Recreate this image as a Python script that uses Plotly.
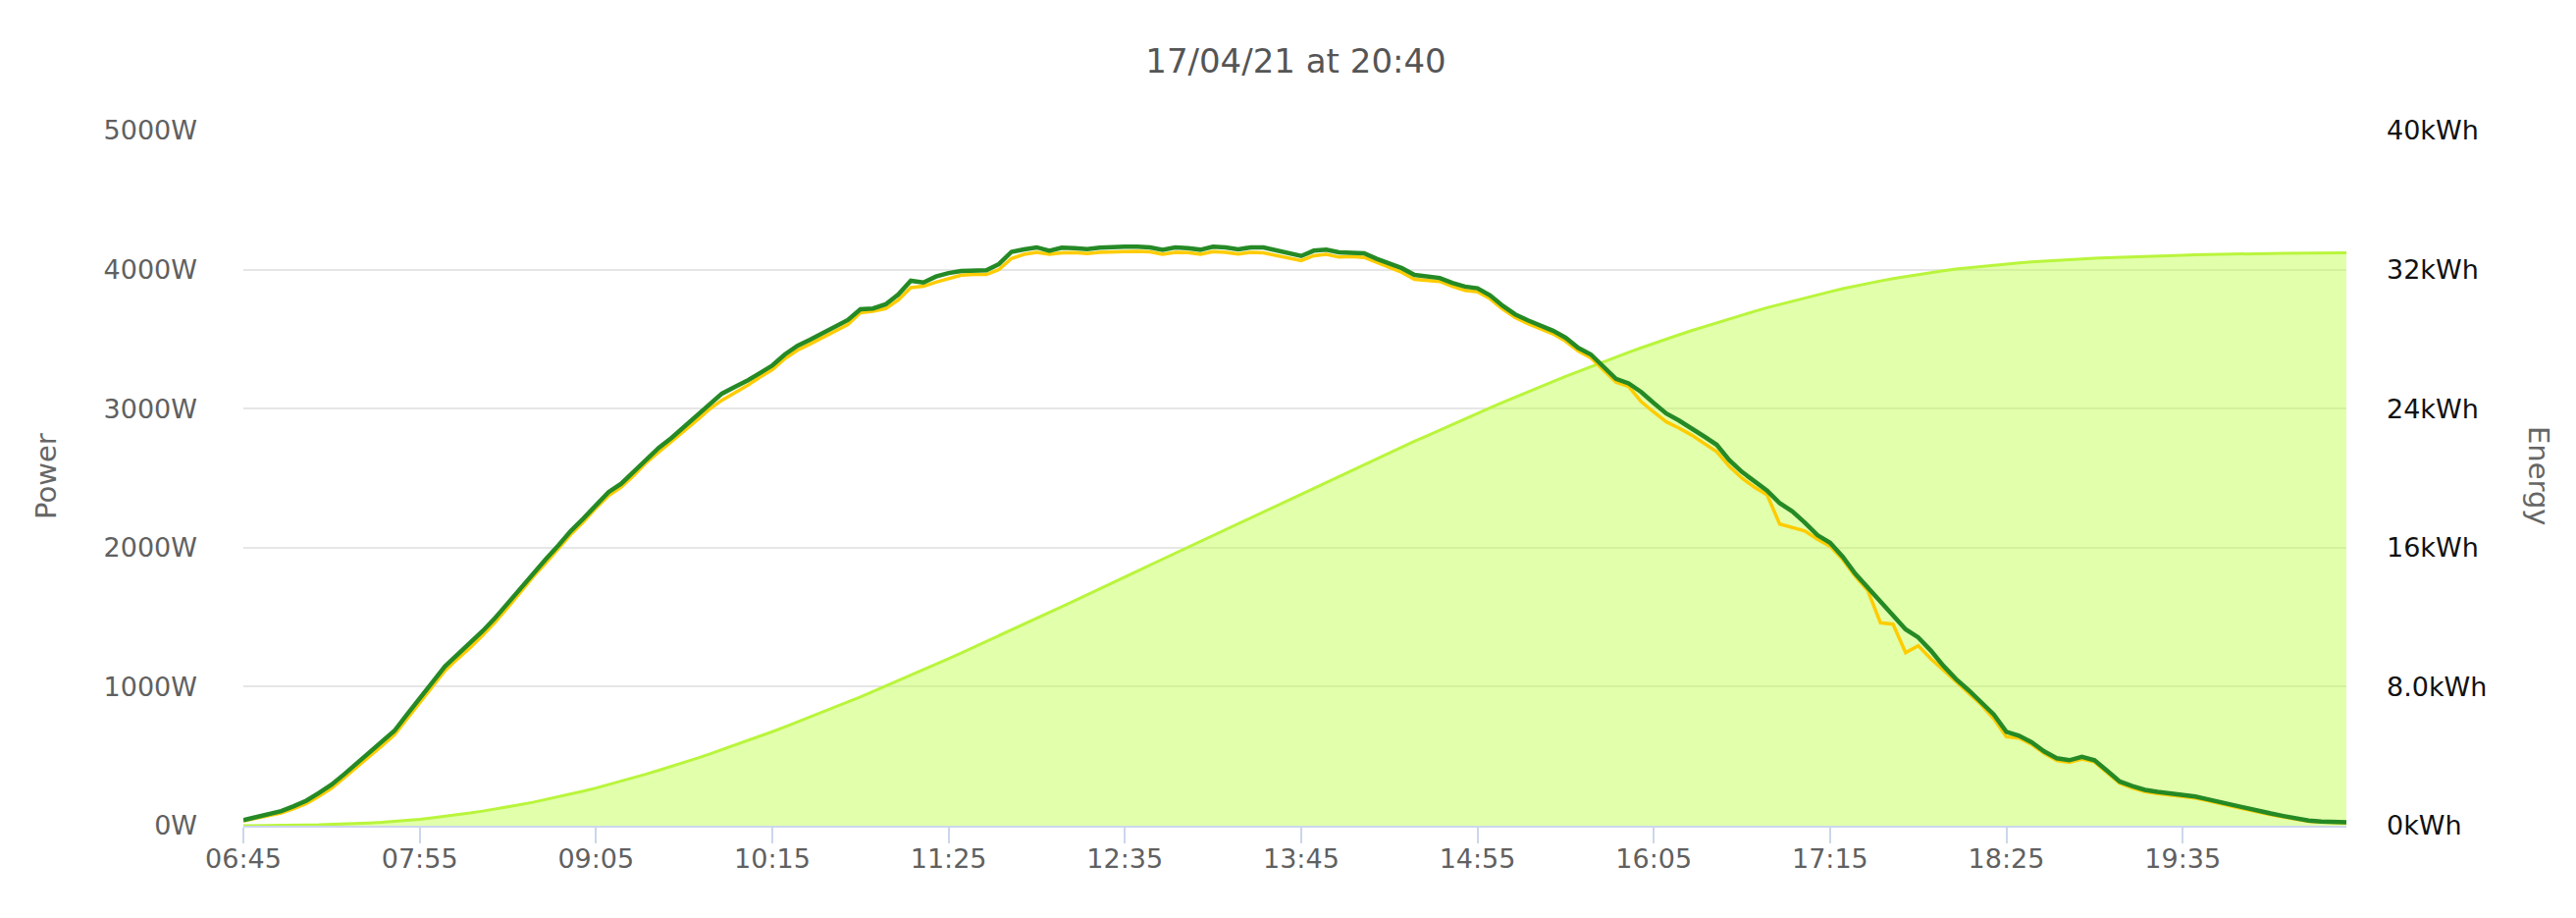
import plotly.graph_objects as go

# ---- data ----
start_min = 6 * 60 + 45
times = [f"{(start_min + 5 * i) // 60:02d}:{(start_min + 5 * i) % 60:02d}" for i in range(168)]

power_green = [
    40, 60, 82, 105, 140, 180, 235, 295, 370, 448, 525, 603,
    683, 800, 920, 1030, 1145, 1230, 1310, 1400, 1495, 1600, 1710, 1820,
    1915, 2015, 2120, 2210, 2310, 2400, 2460, 2545, 2640, 2720, 2790, 2870,
    2945, 3030, 3108, 3155, 3200, 3255, 3310, 3390, 3452, 3495, 3540, 3590,
    3637, 3715, 3720, 3750, 3820, 3920, 3907, 3950, 3975, 3990, 3990, 3995,
    4040, 4128, 4145, 4160, 4135, 4158, 4155, 4148, 4158, 4164, 4165, 4165,
    4160, 4143, 4160, 4155, 4143, 4165, 4160, 4145, 4160, 4160, 4140, 4120,
    4098, 4136, 4143, 4125, 4122, 4118, 4078, 4045, 4010, 3962, 3950, 3940,
    3905, 3878, 3866, 3815, 3740, 3678, 3635, 3600, 3560, 3510, 3437, 3390,
    3300, 3214, 3182, 3120, 3040, 2965, 2915, 2862, 2800, 2740, 2630, 2545,
    2475, 2410, 2320, 2261, 2180, 2090, 2035, 1935, 1813, 1710, 1610, 1510,
    1413, 1355, 1260, 1150, 1055, 975, 890, 800, 675, 648, 601, 535,
    485, 471, 495, 471, 395, 318, 285, 258, 243, 232, 220, 210,
    190, 168, 148, 128, 108, 88, 70, 53, 37, 30, 26, 24,
]

power_yellow = [
    35, 52, 72, 92, 122, 160, 212, 270, 345, 420, 498, 575,
    655, 770, 890, 1000, 1115, 1200, 1280, 1370, 1465, 1570, 1680, 1790,
    1888, 1990, 2095, 2185, 2285, 2375, 2435, 2520, 2612, 2690, 2762, 2840,
    2915, 2995, 3060, 3110, 3165, 3225, 3280, 3360, 3420, 3465, 3510, 3560,
    3605, 3690, 3700, 3720, 3780, 3870, 3880, 3910, 3935, 3960, 3965, 3965,
    4000, 4080, 4110, 4125, 4110, 4120, 4122, 4115, 4125, 4130, 4130, 4132,
    4128, 4110, 4125, 4122, 4110, 4130, 4125, 4112, 4125, 4120, 4100, 4080,
    4065, 4100, 4110, 4090, 4095, 4088, 4050, 4015, 3980, 3930, 3925, 3915,
    3880, 3850, 3840, 3790, 3715, 3655, 3612, 3578, 3538, 3485, 3415, 3365,
    3275, 3190, 3160, 3050, 2975, 2905, 2860, 2810, 2750, 2690, 2585, 2500,
    2435, 2380, 2170, 2145, 2120, 2060, 2010, 1915, 1795, 1690, 1460, 1450,
    1245, 1295, 1200, 1120, 1035, 955, 870, 770, 640, 630, 585, 520,
    470, 455, 480, 458, 382, 305, 272, 245, 232, 222, 210, 200,
    180, 158, 138, 118, 98, 80, 62, 46, 32, 26, 22, 20,
]

energy_kwh = [
    0.00, 0.00, 0.01, 0.01, 0.02, 0.04, 0.05, 0.07, 0.09, 0.12, 0.16, 0.20,
    0.25, 0.31, 0.37, 0.45, 0.53, 0.63, 0.73, 0.84, 0.95, 1.07, 1.21, 1.35,
    1.50, 1.65, 1.82, 1.99, 2.17, 2.36, 2.56, 2.76, 2.97, 3.19, 3.41, 3.64,
    3.88, 4.12, 4.37, 4.62, 4.88, 5.14, 5.41, 5.68, 5.96, 6.24, 6.53, 6.82,
    7.12, 7.41, 7.72, 8.02, 8.33, 8.65, 8.97, 9.29, 9.61, 9.94, 10.27, 10.59,
    10.92, 11.25, 11.59, 11.93, 12.27, 12.61, 12.95, 13.30, 13.64, 13.98, 14.32, 14.66,
    15.00, 15.34, 15.68, 16.03, 16.37, 16.71, 17.05, 17.39, 17.73, 18.07, 18.41, 18.75,
    19.09, 19.43, 19.77, 20.11, 20.45, 20.78, 21.12, 21.46, 21.79, 22.12, 22.44, 22.77,
    23.09, 23.41, 23.73, 24.05, 24.36, 24.67, 24.97, 25.27, 25.56, 25.86, 26.14, 26.43,
    26.70, 26.98, 27.24, 27.50, 27.76, 28.01, 28.25, 28.49, 28.72, 28.95, 29.18, 29.39,
    29.60, 29.81, 30.00, 30.19, 30.38, 30.56, 30.73, 30.90, 31.06, 31.21, 31.35, 31.48,
    31.60, 31.72, 31.83, 31.93, 32.03, 32.11, 32.19, 32.27, 32.33, 32.39, 32.44, 32.49,
    32.53, 32.57, 32.61, 32.65, 32.69, 32.72, 32.75, 32.77, 32.79, 32.81, 32.83, 32.85,
    32.87, 32.88, 32.90, 32.91, 32.92, 32.93, 32.94, 32.94, 32.95, 32.95, 32.95, 32.96,
]

power_ticks = [0, 1000, 2000, 3000, 4000, 5000]
power_tick_text = ["0W", "1000W", "2000W", "3000W", "4000W", "5000W"]
energy_ticks = [0, 8, 16, 24, 32, 40]
energy_tick_text = ["0kWh", "8.0kWh", "16kWh", "24kWh", "32kWh", "40kWh"]
x_tick_labels = times[::14]

title_text = "17/04/21 at 20:40"

FONT = "DejaVu Sans"

fig = go.Figure()

# energy area (base axis, right side) - drawn beneath the power lines
fig.add_trace(go.Scatter(
    x=times, y=energy_kwh, mode="lines", name="Energy",
    line=dict(color="#b9f53c", width=3),
    fill="tozeroy", fillcolor="rgba(190,255,70,0.45)",
    yaxis="y", hoverinfo="skip",
))
fig.add_trace(go.Scatter(
    x=times, y=power_yellow, mode="lines", name="Power 1",
    line=dict(color="#ffcc00", width=3.5),
    yaxis="y2", hoverinfo="skip",
))
fig.add_trace(go.Scatter(
    x=times, y=power_green, mode="lines", name="Power 2",
    line=dict(color="#258a25", width=4.5),
    yaxis="y2", hoverinfo="skip",
))

fig.update_layout(
    template="none",
    width=2625, height=935,
    margin=dict(l=240, r=242, t=125, b=102, autoexpand=False),
    paper_bgcolor="white", plot_bgcolor="white",
    showlegend=False,
    font=dict(family=FONT),
    title=dict(text=title_text, x=0.5, xanchor="center", y=1 - 54 / 935, yanchor="middle",
               font=dict(family=FONT, size=34, color="#555555")),
    xaxis=dict(
        type="category", range=[0, len(times) - 1], automargin=False,
        showgrid=False, zeroline=False,
        showline=True, linecolor="#ccd6eb", linewidth=2,
        ticks="outside", ticklen=16, tickwidth=2, tickcolor="#ccd6eb",
        ticklabelstandoff=-7,
        tickmode="array", tickvals=x_tick_labels, ticktext=x_tick_labels,
        tickfont=dict(family=FONT, size=27, color="#606060"),
    ),
    yaxis=dict(
        side="right", range=[0, 40], automargin=False,
        tickmode="array", tickvals=energy_ticks, ticktext=energy_tick_text,
        showgrid=True, gridcolor="#e6e6e6", gridwidth=2,
        zeroline=False, showline=False, ticks="",
        ticklabelstandoff=40,
        tickfont=dict(family=FONT, size=27, color="#111111"),
    ),
    yaxis2=dict(
        overlaying="y", side="left", range=[0, 5000], automargin=False,
        tickmode="array", tickvals=power_ticks, ticktext=power_tick_text,
        showgrid=False, zeroline=False, showline=False, ticks="",
        ticklabelstandoff=46,
        tickfont=dict(family=FONT, size=27, color="#606060"),
    ),
    annotations=[
        dict(text="Power", xref="paper", yref="paper", x=(39 - 240) / 2143, y=(833 - 477) / 708,
             xanchor="center", yanchor="middle", textangle=-90, showarrow=False,
             font=dict(family=FONT, size=29, color="#666666")),
        dict(text="Energy", xref="paper", yref="paper", x=(2579 - 240) / 2143, y=(833 - 477) / 708,
             xanchor="center", yanchor="middle", textangle=90, showarrow=False,
             font=dict(family=FONT, size=29, color="#666666")),
    ],
)

fig.write_html("out.html")
